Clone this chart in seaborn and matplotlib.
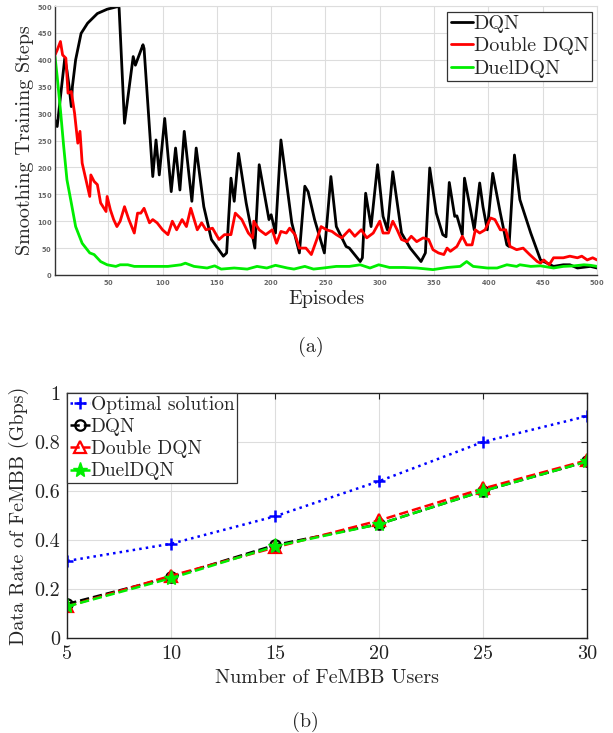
import numpy as np
import pandas as pd
import matplotlib
matplotlib.use("Agg")
import matplotlib.pyplot as plt
import seaborn as sns

# ---------------- data: (a) smoothing training steps ----------------
dqn_ep = [1, 3, 10, 12, 14, 16, 17, 20, 25, 31, 40, 49, 59, 60, 65, 73, 75, 82, 83, 91, 94, 97, 102,
          108, 112, 116, 120, 127, 131, 138, 145, 156, 159, 163, 166, 170, 177, 185, 189, 198,
          200, 204, 209, 219, 226, 231, 234, 240, 249, 255, 260, 269, 272, 282, 284, 287, 292,
          298, 303, 307, 312, 320, 328, 338, 342, 346, 352, 358, 361, 364, 369, 371, 376, 378,
          383, 387, 392, 395, 399, 404, 411, 417, 419, 424, 429, 439, 448, 460, 469, 475, 482,
          494, 500]
dqn_val = [288, 276, 403, 380, 350, 313, 350, 400, 449, 468, 486, 494, 499, 497, 282, 406, 390, 428,
           421, 183, 251, 186, 291, 155, 236, 158, 267, 137, 236, 127, 66, 35, 41, 180, 137, 226,
           134, 50, 205, 103, 112, 78, 251, 97, 41, 165, 155, 103, 41, 183, 90, 53, 50, 25, 32,
           152, 90, 205, 109, 84, 192, 78, 50, 25, 41, 199, 115, 75, 71, 172, 109, 110, 75, 180,
           127, 84, 171, 127, 84, 189, 115, 56, 53, 223, 140, 78, 28, 16, 19, 19, 13, 16, 13]

ddqn_ep = [1, 3, 6, 8, 11, 13, 16, 19, 22, 24, 26, 33, 34, 37, 40, 43, 48, 49, 52, 55, 58, 61, 65,
           69, 74, 77, 80, 83, 88, 91, 95, 100, 105, 109, 113, 118, 122, 126, 132, 136, 140, 146,
           152, 157, 163, 167, 173, 179, 183, 184, 189, 195, 201, 205, 209, 214, 217, 222, 226,
           229, 232, 237, 242, 246, 251, 256, 260, 265, 272, 277, 283, 288, 294, 300, 303, 308,
           312, 316, 320, 325, 329, 334, 340, 345, 349, 354, 359, 362, 365, 371, 376, 380, 385,
           388, 392, 397, 402, 406, 411, 416, 420, 426, 432, 438, 445, 448, 451, 456, 460, 469,
           475, 482, 486, 491, 496, 500]
ddqn_val = [409, 418, 434, 409, 403, 338, 341, 301, 245, 267, 208, 146, 186, 174, 168, 134, 118, 146,
            121, 103, 90, 100, 127, 103, 78, 115, 115, 124, 97, 103, 97, 84, 75, 100, 84, 103, 90,
            124, 84, 97, 84, 87, 66, 75, 75, 115, 103, 78, 69, 100, 84, 75, 84, 59, 81, 78, 87, 75,
            50, 50, 50, 38, 66, 90, 84, 81, 75, 69, 84, 72, 84, 69, 78, 100, 78, 78, 100, 84, 66,
            62, 72, 62, 69, 66, 47, 41, 38, 50, 44, 53, 72, 56, 56, 84, 78, 84, 106, 103, 84, 84,
            53, 47, 50, 38, 25, 22, 28, 19, 32, 32, 35, 32, 35, 28, 32, 28]

duel_ep = [1, 3, 6, 9, 12, 16, 20, 26, 33, 37, 43, 49, 57, 61, 68, 74, 83, 92, 105, 117, 121, 129,
           141, 148, 154, 166, 178, 187, 196, 204, 215, 221, 231, 239, 248, 260, 272, 282, 291,
           299, 309, 322, 334, 349, 362, 374, 380, 386, 399, 408, 417, 426, 429, 439, 448, 460,
           469, 479, 488, 494, 500]
duel_val = [406, 369, 307, 239, 177, 134, 90, 59, 41, 38, 25, 19, 16, 19, 19, 16, 16, 16, 16, 19, 22,
            16, 13, 17, 11, 13, 11, 16, 13, 18, 13, 11, 16, 11, 13, 16, 16, 19, 13, 19, 14, 14,
            13, 10, 14, 16, 25, 16, 13, 13, 19, 16, 19, 16, 17, 13, 16, 17, 19, 18, 16]

# ---------------- data: (b) data rate ----------------
users = [5, 10, 15, 20, 25, 30]
rate_opt = [0.315, 0.385, 0.497, 0.640, 0.800, 0.905]
rate_dqn = [0.140, 0.250, 0.380, 0.465, 0.600, 0.720]
rate_ddqn = [0.130, 0.255, 0.370, 0.480, 0.610, 0.725]
rate_duel = [0.130, 0.245, 0.375, 0.465, 0.600, 0.720]

sns.set_theme(style="white")
plt.rcParams["axes.formatter.use_mathtext"] = True
plt.rcParams["font.family"] = ["DejaVu Sans"]

CM = "cmr10"
FS = 14.5

fig = plt.figure(figsize=(6.13, 7.33), dpi=100)
W, H = 613.0, 733.0

# ---------------- top axes ----------------
ax1 = fig.add_axes([55 / W, 1 - 275 / H, (597 - 55) / W, (275 - 6) / H])
for ep, val, col, lab in [(dqn_ep, dqn_val, "black", "DQN"),
                          (ddqn_ep, ddqn_val, "#ff0000", "Double DQN"),
                          (duel_ep, duel_val, "#00ee00", "DuelDQN")]:
    sns.lineplot(x=ep, y=val, ax=ax1, color=col, linewidth=2.0, label=lab, sort=False,
                 estimator=None)
ax1.set_xlim(1, 500)
ax1.set_ylim(0, 500)
ax1.set_xticks(np.arange(50, 501, 50))
ax1.set_yticks(np.arange(0, 501, 50))
ax1.grid(True, color="#dddddd", linewidth=0.8)
ax1.set_axisbelow(True)
for s in ["top", "right"]:
    ax1.spines[s].set_color("#dddddd")
    ax1.spines[s].set_linewidth(0.8)
for s in ["left", "bottom"]:
    ax1.spines[s].set_color("#333333")
    ax1.spines[s].set_linewidth(1.0)
ax1.tick_params(axis="both", labelsize=4.8, labelcolor="#666666", direction="in",
                length=3, width=0.8, color="#333333", pad=2)
for t in ax1.get_xticklabels() + ax1.get_yticklabels():
    t.set_fontweight("bold")
ax1.set_xlabel("Episodes", fontfamily=CM, fontsize=FS, labelpad=2)
ax1.set_ylabel("Smoothing Training Steps", fontfamily=CM, fontsize=FS, labelpad=2)
leg1 = ax1.legend(loc="upper right", bbox_to_anchor=(591.7 / W, 1 - 11.7 / H),
                  bbox_transform=fig.transFigure, borderaxespad=0, fancybox=False,
                  framealpha=1, edgecolor="#333333", handlelength=1.1, handletextpad=0.05,
                  labelspacing=0.22, borderpad=0.15, prop={"family": CM, "size": FS})
leg1.get_frame().set_linewidth(0.9)

# ---------------- bottom axes ----------------
ax2 = fig.add_axes([67.3 / W, 1 - 638.3 / H, (587.3 - 67.3) / W, (638.3 - 392.7) / H])
sns.lineplot(x=users, y=rate_opt, ax=ax2, color="#0000ff", linestyle=":", linewidth=1.8,
             marker="+", markersize=9, markeredgewidth=1.8, markeredgecolor="#0000ff",
             label="Optimal solution")
sns.lineplot(x=users, y=rate_dqn, ax=ax2, color="black", linestyle="--", linewidth=1.8,
             marker="o", markersize=7.5, markerfacecolor="none", markeredgecolor="black",
             markeredgewidth=1.6, label="DQN")
sns.lineplot(x=users, y=rate_ddqn, ax=ax2, color="#ff0000", linestyle="--", linewidth=1.8,
             marker="^", markersize=8.5, markerfacecolor="none", markeredgecolor="#ff0000",
             markeredgewidth=1.6, label="Double DQN")
sns.lineplot(x=users, y=rate_duel, ax=ax2, color="#00ee00", linestyle="--", linewidth=1.8,
             marker="*", markersize=11, markerfacecolor="#00ee00", markeredgecolor="#00ee00",
             markeredgewidth=1.0, label="DuelDQN")
ax2.set_xlim(5, 30)
ax2.set_ylim(0, 1)
ax2.set_xticks(users)
ax2.set_yticks([0, 0.2, 0.4, 0.6, 0.8, 1.0])
ax2.set_xticklabels([str(u) for u in users])
ax2.set_yticklabels(["0", "0.2", "0.4", "0.6", "0.8", "1"])
ax2.grid(True, color="#dddddd", linewidth=0.8)
ax2.set_axisbelow(True)
for s in ax2.spines.values():
    s.set_color("#222222")
    s.set_linewidth(1.0)
ax2.tick_params(axis="both", direction="in", top=True, right=True, length=4, width=0.8,
                color="#222222", labelsize=FS, pad=5)
for t in ax2.get_xticklabels() + ax2.get_yticklabels():
    t.set_fontfamily(CM)
    t.set_color("#222222")
ax2.set_xlabel("Number of FeMBB Users", fontfamily=CM, fontsize=FS, labelpad=4)
ax2.set_ylabel("Data Rate of FeMBB (Gbps)", fontfamily=CM, fontsize=FS, labelpad=4)
leg2 = ax2.legend(loc="upper left", bbox_to_anchor=(0, 1), borderaxespad=0, fancybox=False,
                  framealpha=1, edgecolor="#333333", handlelength=1.0, handletextpad=0.05,
                  labelspacing=0.22, borderpad=0.15, prop={"family": CM, "size": 14})
leg2.get_frame().set_linewidth(0.9)

# captions
fig.text(311 / W, 1 - 347 / H, "(a)", ha="center", va="center", fontfamily=CM, fontsize=FS)
fig.text(305 / W, 1 - 722 / H, "(b)", ha="center", va="center", fontfamily=CM, fontsize=FS)

fig.savefig("out.png", dpi=100)
